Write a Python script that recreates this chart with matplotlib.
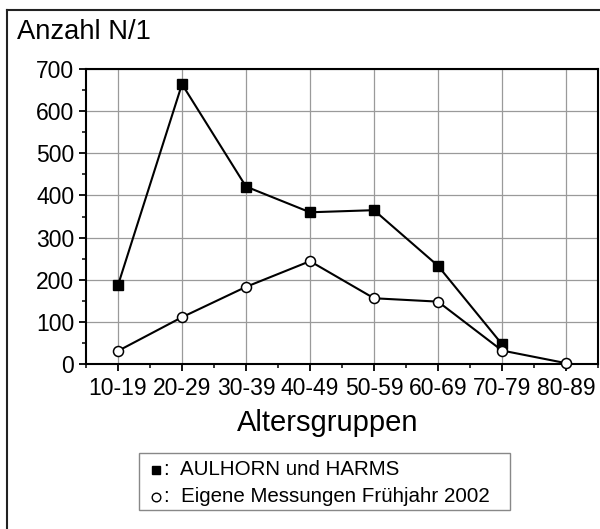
import matplotlib
matplotlib.use("Agg")
import matplotlib.pyplot as plt
from matplotlib.lines import Line2D
from matplotlib.patches import Rectangle
from matplotlib.ticker import MultipleLocator
import numpy as np

plt.rcParams['font.family'] = ['Liberation Sans', 'DejaVu Sans']

categories = ["10-19", "20-29", "30-39", "40-49", "50-59", "60-69", "70-79", "80-89"]
aulhorn = [187, 664, 421, 360, 365, 233, 47]
eigene = [31, 111, 183, 244, 156, 148, 32, 2]
label_aulhorn = "AULHORN und HARMS"
label_eigene = "Eigene Messungen Frühjahr 2002"

W, H = 600, 529
fig = plt.figure(figsize=(6.0, 5.29), dpi=100)
ax = fig.add_axes([86 / W, 1 - 364 / H, (598 - 86) / W, (364 - 69) / H])

x_a = np.arange(len(aulhorn))
x_e = np.arange(len(eigene))
ax.plot(x_a, aulhorn, color='black', lw=1.5, marker='s', ms=6.8,
        mfc='black', mec='black', zorder=3, clip_on=False)
ax.plot(x_e, eigene, color='black', lw=1.5, marker='o', ms=7.2,
        mfc='white', mec='black', mew=1.1, zorder=4, clip_on=False)

ax.set_xlim(-0.5, len(categories) - 0.5)
ax.set_ylim(0, 700)
ax.set_xticks(range(len(categories)))
ax.set_xticklabels(categories, fontsize=16.5)
ax.xaxis.set_minor_locator(MultipleLocator(0.5))
ax.yaxis.set_major_locator(MultipleLocator(100))
ax.yaxis.set_minor_locator(MultipleLocator(50))

ax.grid(True, which='major', color='#9a9a9a', lw=0.9, zorder=0)
ax.set_axisbelow(True)

for s in ax.spines.values():
    s.set_linewidth(1.5)
    s.set_color('black')

ax.tick_params(axis='both', which='major', direction='out', length=5, width=1.3,
               colors='black')
ax.tick_params(axis='y', which='major', labelsize=16.5, pad=3.5)
ax.tick_params(axis='both', which='minor', direction='out', length=3, width=1.1)
ax.tick_params(axis='x', which='major', pad=4.5)

# y-axis title
fig.text(17 / W, 1 - 39 / H, "Anzahl N/1", fontsize=19.7, ha='left', va='baseline')
# x-axis title
fig.text(328 / W, 1 - 431 / H, "Altersgruppen", fontsize=21, ha='center', va='baseline')

# outer frame (left + top)
fig.add_artist(Line2D([7 / W, 7 / W], [0, 1 - 10 / H], color='#222222', lw=1.5))
fig.add_artist(Line2D([7 / W, 1], [1 - 10 / H, 1 - 10 / H], color='#222222', lw=1.5))

# legend box
fig.add_artist(Rectangle((139 / W, 1 - 510 / H), (510 - 139) / W, (510 - 453) / H,
                         transform=fig.transFigure, fill=False, edgecolor='#888888', lw=1.0))
fig.add_artist(Line2D([156 / W], [1 - 470 / H], marker='s', ms=6, color='black',
                      mfc='black', mec='black', transform=fig.transFigure))
fig.add_artist(Line2D([156 / W], [1 - 497 / H], marker='o', ms=6.2, color='black',
                      mfc='white', mec='black', mew=1.0, transform=fig.transFigure))
fig.text(164 / W, 1 - 475 / H, ":  " + label_aulhorn, fontsize=14.8, ha='left', va='baseline')
fig.text(164 / W, 1 - 502 / H, ":  " + label_eigene, fontsize=14.8, ha='left', va='baseline')

fig.savefig("out.png", dpi=100)
